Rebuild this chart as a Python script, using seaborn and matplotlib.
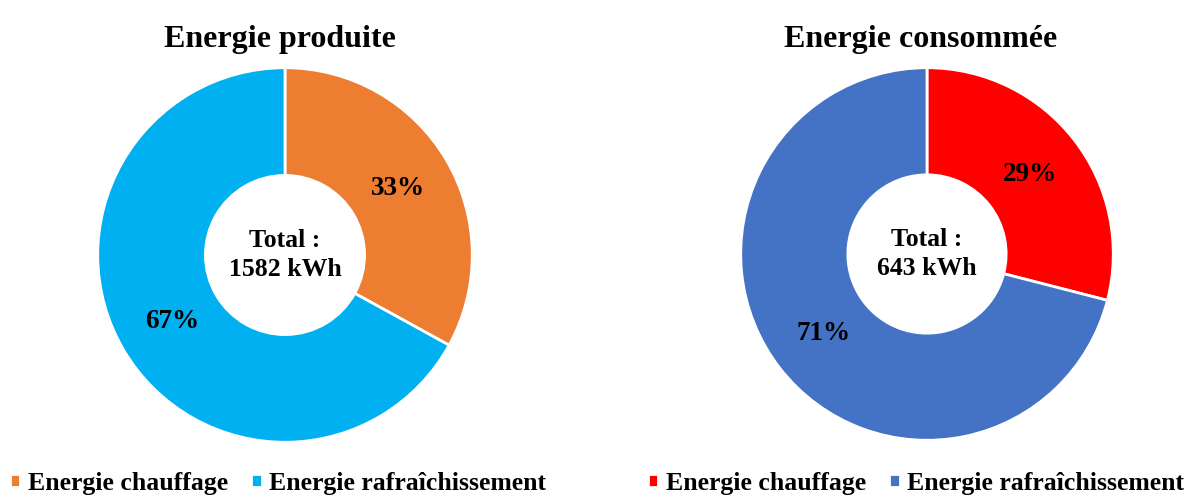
import matplotlib
matplotlib.use("Agg")
import matplotlib.pyplot as plt
import seaborn as sns

sns.set_theme(style="white")
plt.rcParams['font.family'] = ['Liberation Serif', 'DejaVu Serif']
plt.rcParams['text.color'] = 'black'

categories = ["Energie chauffage", "Energie rafraîchissement"]
produced_pct = [33, 67]
consumed_pct = [29, 71]
produced_total = "1582 kWh"
consumed_total = "643 kWh"
titles = ["Energie produite", "Energie consommée"]
produced_colors = ["#ED7D31", "#00B0F0"]
consumed_colors = ["#FF0000", "#4472C4"]

W, H = 1197, 497
fig = plt.figure(figsize=(W / 100, H / 100), dpi=100)


def px_axes(cx, cy, r):
    return fig.add_axes([(cx - r) / W, (H - cy - r) / H, 2 * r / W, 2 * r / H])


def donut(ax, values, colors, total):
    wedges, texts, autotexts = ax.pie(
        values, colors=colors, startangle=90, counterclock=False,
        radius=1.0, autopct=lambda p: f"{p:.0f}%", pctdistance=0.70,
        wedgeprops=dict(width=0.575, edgecolor="white", linewidth=2),
        textprops=dict(fontsize=19.5, fontweight="bold", color="black"))
    ax.text(0, 0, "Total :\n" + total, ha="center", va="center",
            fontsize=18.5, fontweight="bold", linespacing=1.35, color="black")
    ax.set_xlim(-1.02, 1.02)
    ax.set_ylim(-1.02, 1.02)
    ax.set_aspect("equal")
    ax.axis("off")
    return wedges


axL = px_axes(285, 255, 191)
wL = donut(axL, produced_pct, produced_colors, produced_total)
axR = px_axes(927, 254, 190)
wR = donut(axR, consumed_pct, consumed_colors, consumed_total)

fig.text(280 / W, 1 - 47 / H, titles[0], ha="center", va="baseline",
         fontsize=23, fontweight="bold")
fig.text(921 / W, 1 - 47 / H, titles[1], ha="center", va="baseline",
         fontsize=23, fontweight="bold")

legend_kw = dict(ncol=2, frameon=False, handlelength=0.4, handleheight=0.4,
                 handletextpad=0.3, columnspacing=0.9, borderpad=0,
                 borderaxespad=0,
                 prop=dict(family="Liberation Serif", weight="bold", size=18.5))
fig.legend(wL, categories, loc="lower left", bbox_to_anchor=(10 / W, 0.004),
           **legend_kw)
fig.legend(wR, categories, loc="lower left", bbox_to_anchor=(648 / W, 0.004),
           **legend_kw)

fig.savefig("out.png", dpi=100, facecolor="white")
